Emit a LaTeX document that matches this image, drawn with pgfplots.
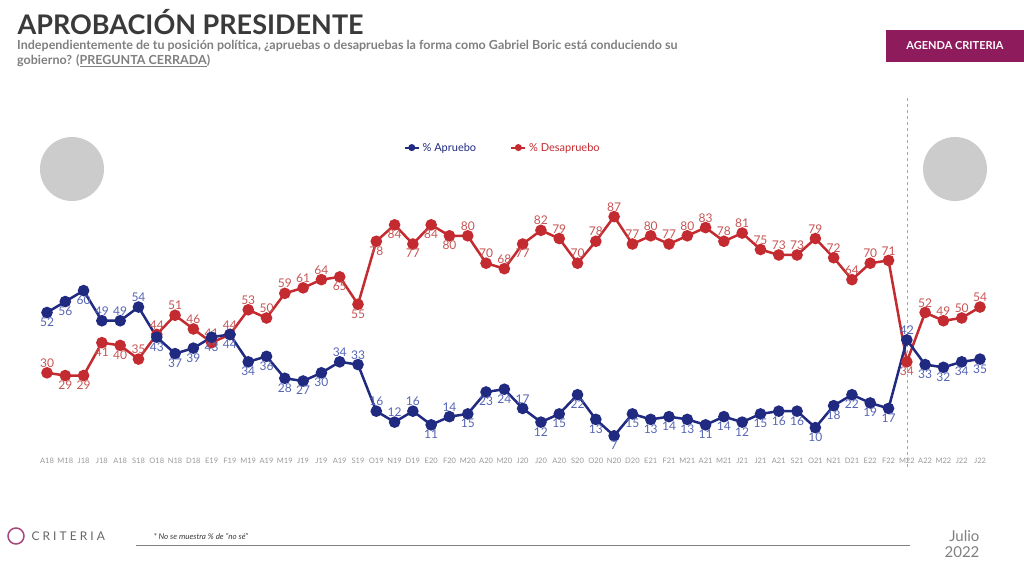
\documentclass[border=0pt]{standalone}
\usepackage{fontspec}
\setmainfont{Lato}
\usepackage{pgfplots}
\pgfplotsset{compat=1.18}
\usepackage{pgfplotstable}
\definecolor{azul}{HTML}{1F2A80}
\definecolor{rojo}{HTML}{C42B30}
\definecolor{azull}{HTML}{5565B5}
\definecolor{rojol}{HTML}{C85555}
\definecolor{mag}{HTML}{8E1B5C}
\definecolor{tit}{HTML}{3A3A3A}
\pgfplotstableread{
x y p
0 52 90
1 56 90
2 60 90
3 49 270
4 49 270
5 54 270
6 43 90
7 37 90
8 39 90
9 43 90
10 44 90
11 34 90
12 36 90
13 28 90
14 27 90
15 30 90
16 34 270
17 33 270
18 16 270
19 12 270
20 16 270
21 11 90
22 14 270
23 15 90
24 23 90
25 24 90
26 17 270
27 12 90
28 15 90
29 22 90
30 13 90
31 7 90
32 15 90
33 13 90
34 14 90
35 13 90
36 11 90
37 14 90
38 12 90
39 15 90
40 16 90
41 16 90
42 10 90
43 18 90
44 22 90
45 19 90
46 17 90
47 42 270
48 33 90
49 32 90
50 34 90
51 35 90
}\apr
\pgfplotstableread{
x y p
0 30 270
1 29 90
2 29 90
3 41 90
4 40 90
5 35 270
6 44 270
7 51 270
8 46 270
9 41 270
10 44 270
11 53 270
12 50 270
13 59 270
14 61 270
15 64 270
16 65 90
17 55 90
18 78 90
19 84 90
20 77 90
21 84 90
22 80 90
23 80 270
24 70 270
25 68 270
26 77 90
27 82 270
28 79 270
29 70 270
30 78 270
31 87 270
32 77 270
33 80 270
34 77 270
35 80 270
36 83 270
37 78 270
38 81 270
39 75 270
40 73 270
41 73 270
42 79 270
43 72 270
44 64 270
45 70 270
46 71 270
47 34 90
48 52 270
49 49 270
50 50 270
51 54 270
}\des
\begin{document}
\begin{tikzpicture}[x=1pt,y=1pt]
\fill[white] (0,0) rectangle (1024,574);
\node[anchor=west,font=\fontsize{27}{29}\selectfont\bfseries,text=tit] at (14,552) {APROBACIÓN PRESIDENTE};
\node[anchor=north west,font=\fontsize{12.5}{15}\selectfont\bfseries,text=gray,align=left,inner sep=0pt] at (17,534) {Independientemente de tu posición política, ¿apruebas o desapruebas la forma como Gabriel Boric está conduciendo su\\gobierno? (\underline{PREGUNTA CERRADA})};
\fill[mag] (886,512) rectangle (1024,544);
\node[text=white,font=\fontsize{11}{13}\selectfont\bfseries] at (955,528) {AGENDA CRITERIA};
\fill[gray!40] (72,405) circle (32);
\fill[gray!40] (955,405) circle (32);
\draw[gray!70,dashed,thick] (907,476) -- (907,104);
\begin{axis}[at={(47pt,119pt)},anchor=south west,scale only axis,
width=933pt,height=274pt,xmin=0,xmax=51,ymin=0,ymax=100,
axis line style={draw=none},ymajorticks=false,
/pgf/number format/assume math mode=true,
xtick={0,...,51},
xticklabels={A18,M18,J18,J18,A18,S18,O18,N18,D18,E19,F19,M19,A19,M19,J19,J19,A19,S19,O19,N19,D19,E20,F20,M20,A20,M20,J20,J20,A20,S20,O20,N20,D20,E21,F21,M21,A21,M21,J21,J21,A21,S21,O21,N21,D21,E22,F22,M22,A22,M22,J22,J22},
xticklabel style={font=\fontsize{7.5}{8}\selectfont,text=gray!80},
major tick length=0pt,
clip=false,
nodes near coords,
visualization depends on={\thisrow{p}\as\pp},
every node near coord/.append style={anchor=\pp,font=\fontsize{12}{13}\selectfont,inner sep=4pt},
]
\addplot[rojo,line width=2.5pt,mark=*,mark size=4.5pt,every node near coord/.append style={text=rojol}] table[x=x,y=y] {\des};
\addplot[azul,line width=2.5pt,mark=*,mark size=4.5pt,every node near coord/.append style={text=azull}] table[x=x,y=y] {\apr};
\end{axis}
\node[font=\fontsize{11}{12}\selectfont,text=azul] at (440,426) {\tikz\draw[azul,line width=2pt](0,0)--(14pt,0) node[midway,circle,fill=azul,inner sep=2.5pt]{}; \% Apruebo};
\node[font=\fontsize{11}{12}\selectfont,text=rojo] at (555,426) {\tikz\draw[rojo,line width=2pt](0,0)--(14pt,0) node[midway,circle,fill=rojo,inner sep=2.5pt]{}; \% Desapruebo};
\draw[mag!80,line width=1.5pt] (16,38) circle (8);
\node[anchor=west,font=\fontsize{12}{13}\selectfont,text=gray!80!black] at (28,38) {C R I T E R I A};
\draw[gray] (136,29) -- (910,29);
\node[anchor=west,font=\fontsize{8}{9}\selectfont\itshape,text=tit] at (150,37) {* No se muestra \% de ''no sé''};
\node[align=right,font=\fontsize{15}{16}\selectfont,text=gray] at (962,30) {Julio\\2022};
\end{tikzpicture}
\end{document}
